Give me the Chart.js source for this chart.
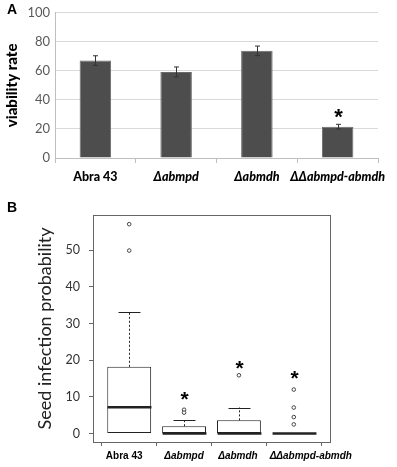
<!DOCTYPE html>
<html>
<head>
<meta charset="utf-8">
<script src="https://cdn.jsdelivr.net/npm/chart.js@4/dist/chart.umd.min.js"></script>
<style>
  html, body { margin: 0; padding: 0; background: #fff; }
  body { width: 397px; height: 467px; position: relative; overflow: hidden; font-family: Lato, sans-serif; }
  canvas { position: absolute; left: 0; }
  #cA { top: 0; }
  #cB { top: 190px; }
  .panel { position: absolute; font-family: "Liberation Sans", Arial, sans-serif; font-weight: bold; font-size: 14px; color: #000; }
</style>
</head>
<body>
<canvas id="cA" width="397" height="190"></canvas>
<canvas id="cB" width="397" height="277"></canvas>
<div class="panel" style="left:7px; top:1px;">A</div>
<div class="panel" style="left:7px; top:199px;">B</div>
<script>
// ---------- data ----------
const categories = ['Abra 43', 'Δabmpd', 'Δabmdh', 'ΔΔabmpd-abmdh'];
// Panel A: viability rate (mean and error)
const viability = [67.1, 59.3, 73.8, 21.6];
const viabilityErr = [3.3, 3.4, 3.3, 1.6];
const viabilityTicks = [0, 20, 40, 60, 80, 100];
const sigA = [false, false, false, true];
const sigAValue = [null, null, null, 32];
// Panel B: seed infection probability box plots
const boxQ1 = [0, 0, 0, 0];
const boxMedian = [7.2, 0, 0, 0];
const boxQ3 = [18.2, 2.0, 3.6, 0];
const whiskerLow = [0, 0, 0, 0];
const whiskerHigh = [33.2, 3.6, 7.1, 0];
const outliers = [[57.1, 49.9], [6.5, 5.7], [15.9], [12.0, 7.1, 4.5, 2.5]];
const sigBValue = [null, 10.9, 19.1, 16.6];
const infectionTicks = [0, 10, 20, 30, 40, 50];
const positionsB = [1, 2, 3, 4];
// horizontal nudge of the panel-B category labels (as set in the original figure)
const labelNudgeB = [-5, 0, -1, 17];

Chart.defaults.font.family = 'Lato, "Liberation Sans", sans-serif';
Chart.defaults.animation = false;

function drawStar(ctx, x, y, size) {
  ctx.save();
  ctx.fillStyle = '#000';
  ctx.font = 'bold ' + size + 'px "Liberation Sans", Arial, sans-serif';
  ctx.textAlign = 'center';
  ctx.textBaseline = 'alphabetic';
  ctx.fillText('*', x, y + 0.57 * size);
  ctx.restore();
}

// ---------- Chart A ----------
const errorBarPlugin = {
  id: 'errorBars',
  afterDatasetsDraw(chart) {
    const ctx = chart.ctx, xs = chart.scales.x, ys = chart.scales.y;
    ctx.save();
    ctx.strokeStyle = '#333';
    ctx.lineWidth = 1;
    viability.forEach((v, i) => {
      const x = Math.round(xs.getPixelForValue(i)) + 0.5;
      const yt = ys.getPixelForValue(v + viabilityErr[i]);
      const yb = ys.getPixelForValue(v - viabilityErr[i]);
      ctx.beginPath();
      ctx.moveTo(x, yt); ctx.lineTo(x, yb);
      ctx.moveTo(x - 2.5, yt); ctx.lineTo(x + 2.5, yt);
      ctx.moveTo(x - 2.5, yb); ctx.lineTo(x + 2.5, yb);
      ctx.stroke();
      if (sigA[i]) drawStar(ctx, x, ys.getPixelForValue(sigAValue[i]), 22);
    });
    ctx.restore();
  }
};

new Chart(document.getElementById('cA'), {
  type: 'bar',
  data: {
    labels: categories,
    datasets: [{
      data: viability,
      backgroundColor: '#4d4d4d',
      borderColor: '#6a6a6a',
      borderWidth: 1,
      borderSkipped: 'bottom',
      categoryPercentage: 1,
      barPercentage: 0.39
    }]
  },
  options: {
    responsive: false,
    devicePixelRatio: 1,
    layout: { padding: { left: 0, right: 19, top: 9, bottom: 0 } },
    plugins: { legend: { display: false }, tooltip: { enabled: false } },
    scales: {
      x: {
        grid: { offset: true, drawOnChartArea: false, drawTicks: true, tickLength: 5, color: '#bfbfbf' },
        border: { display: true, color: '#bfbfbf' },
        ticks: {
          color: '#000',
          padding: 6,
          maxRotation: 0,
          autoSkip: false,
          font: (c) => ({ family: 'Lato, sans-serif', size: 12.5, weight: '900', style: c.index === 0 ? 'normal' : 'italic' })
        },
        afterFit(scale) { scale.height = 32; }
      },
      y: {
        min: 0, max: 100,
        afterBuildTicks(scale) { scale.ticks = viabilityTicks.map(v => ({ value: v })); },
        grid: { color: '#d9d9d9', drawTicks: false },
        border: { display: true, color: '#bfbfbf' },
        ticks: { color: '#595959', padding: 5, font: { size: 13 } },
        title: {
          display: true, text: 'viability rate', color: '#000',
          font: { family: 'Lato, sans-serif', size: 15, weight: '900' },
          padding: { top: 3, bottom: 0 }
        },
        afterFit(scale) { scale.width = 55; }
      }
    }
  },
  plugins: [errorBarPlugin]
});

// ---------- Chart B ----------
const boxPlugin = {
  id: 'boxParts',
  afterDatasetsDraw(chart) {
    const ctx = chart.ctx, xs = chart.scales.x, ys = chart.scales.y;
    const half = (xs.getPixelForValue(1.4) - xs.getPixelForValue(1));
    ctx.save();
    ctx.strokeStyle = '#222';
    positionsB.forEach((p, i) => {
      const x = Math.round(xs.getPixelForValue(p)) + 0.5;
      if (whiskerHigh[i] > boxQ3[i]) {
        ctx.lineWidth = 1;
        ctx.setLineDash([2, 2]);
        ctx.beginPath();
        ctx.moveTo(x, ys.getPixelForValue(boxQ3[i]));
        ctx.lineTo(x, ys.getPixelForValue(whiskerHigh[i]));
        ctx.stroke();
        ctx.setLineDash([]);
        const yc = Math.round(ys.getPixelForValue(whiskerHigh[i])) + 0.5;
        ctx.beginPath();
        ctx.moveTo(x - half / 2, yc); ctx.lineTo(x + half / 2, yc);
        ctx.stroke();
      }
      if (whiskerLow[i] < boxQ1[i]) {
        ctx.lineWidth = 1;
        ctx.setLineDash([2, 2]);
        ctx.beginPath();
        ctx.moveTo(x, ys.getPixelForValue(boxQ1[i]));
        ctx.lineTo(x, ys.getPixelForValue(whiskerLow[i]));
        ctx.stroke();
        ctx.setLineDash([]);
      }
      ctx.lineWidth = 2.5;
      const ym = ys.getPixelForValue(boxMedian[i]);
      ctx.beginPath();
      ctx.moveTo(x - half, ym); ctx.lineTo(x + half, ym);
      ctx.stroke();
      if (sigBValue[i] !== null) drawStar(ctx, x, ys.getPixelForValue(sigBValue[i]), 21);
    });
    const a = chart.chartArea;
    ctx.lineWidth = 1;
    ctx.strokeStyle = '#666';
    ctx.strokeRect(Math.round(a.left) + 0.5, Math.round(a.top) + 0.5, Math.round(a.right - a.left), Math.round(a.bottom - a.top));
    ctx.restore();
  }
};

const outlierPoints = [];
outliers.forEach((arr, i) => arr.forEach(v => outlierPoints.push({ x: positionsB[i], y: v })));

new Chart(document.getElementById('cB'), {
  type: 'bar',
  data: {
    datasets: [{
      type: 'bar',
      data: positionsB.map((p, i) => ({ x: p, y: [boxQ1[i], boxQ3[i]] })),
      backgroundColor: '#fff',
      borderColor: '#222',
      borderWidth: 1,
      borderSkipped: false,
      categoryPercentage: 1,
      barPercentage: 0.8
    }, {
      type: 'scatter',
      data: outlierPoints,
      pointStyle: 'circle',
      pointRadius: 1.8,
      pointBorderWidth: 1,
      pointBorderColor: '#444',
      pointBackgroundColor: '#fff'
    }]
  },
  options: {
    responsive: false,
    devicePixelRatio: 1,
    layout: { padding: { left: 0, right: 67, top: 25, bottom: 0 } },
    plugins: { legend: { display: false }, tooltip: { enabled: false } },
    scales: {
      x: {
        type: 'linear',
        min: 0.34, max: 4.66,
        offset: false,
        afterBuildTicks(scale) { scale.ticks = positionsB.map(v => ({ value: v })); },
        afterUpdate(scale) {
          if (scale._nudged) return;
          scale._nudged = true;
          const orig = scale._computeLabelItems;
          scale._computeLabelItems = function (area) {
            const items = orig.call(this, area);
            items.forEach((it, i) => {
              if (labelNudgeB[i]) it.options.translation = [it.options.translation[0] + labelNudgeB[i], it.options.translation[1]];
            });
            return items;
          };
        },
        grid: { drawOnChartArea: false, drawTicks: true, tickLength: 4, color: '#666' },
        border: { display: false },
        ticks: {
          color: '#000',
          padding: 4,
          maxRotation: 0,
          autoSkip: false,
          callback: (v) => categories[positionsB.indexOf(v)],
          font: (c) => ({ family: '"Liberation Sans", Arial, sans-serif', size: 10, weight: 'bold', style: c.index === 0 ? 'normal' : 'italic' })
        },
        afterFit(scale) { scale.height = 25; }
      },
      y: {
        min: -2.3, max: 59.6,
        afterBuildTicks(scale) { scale.ticks = infectionTicks.map(v => ({ value: v })); },
        grid: { drawOnChartArea: false, drawTicks: true, tickLength: 4, color: '#666' },
        border: { display: false },
        ticks: { color: '#333', padding: 9, font: { size: 12.5 } },
        title: {
          display: true, text: 'Seed infection probability', color: '#222',
          font: { family: 'Lato, sans-serif', size: 18, weight: 'normal' },
          padding: { top: 34, bottom: 0 }
        },
        afterFit(scale) { scale.width = 93; }
      }
    }
  },
  plugins: [boxPlugin]
});
</script>
</body>
</html>
